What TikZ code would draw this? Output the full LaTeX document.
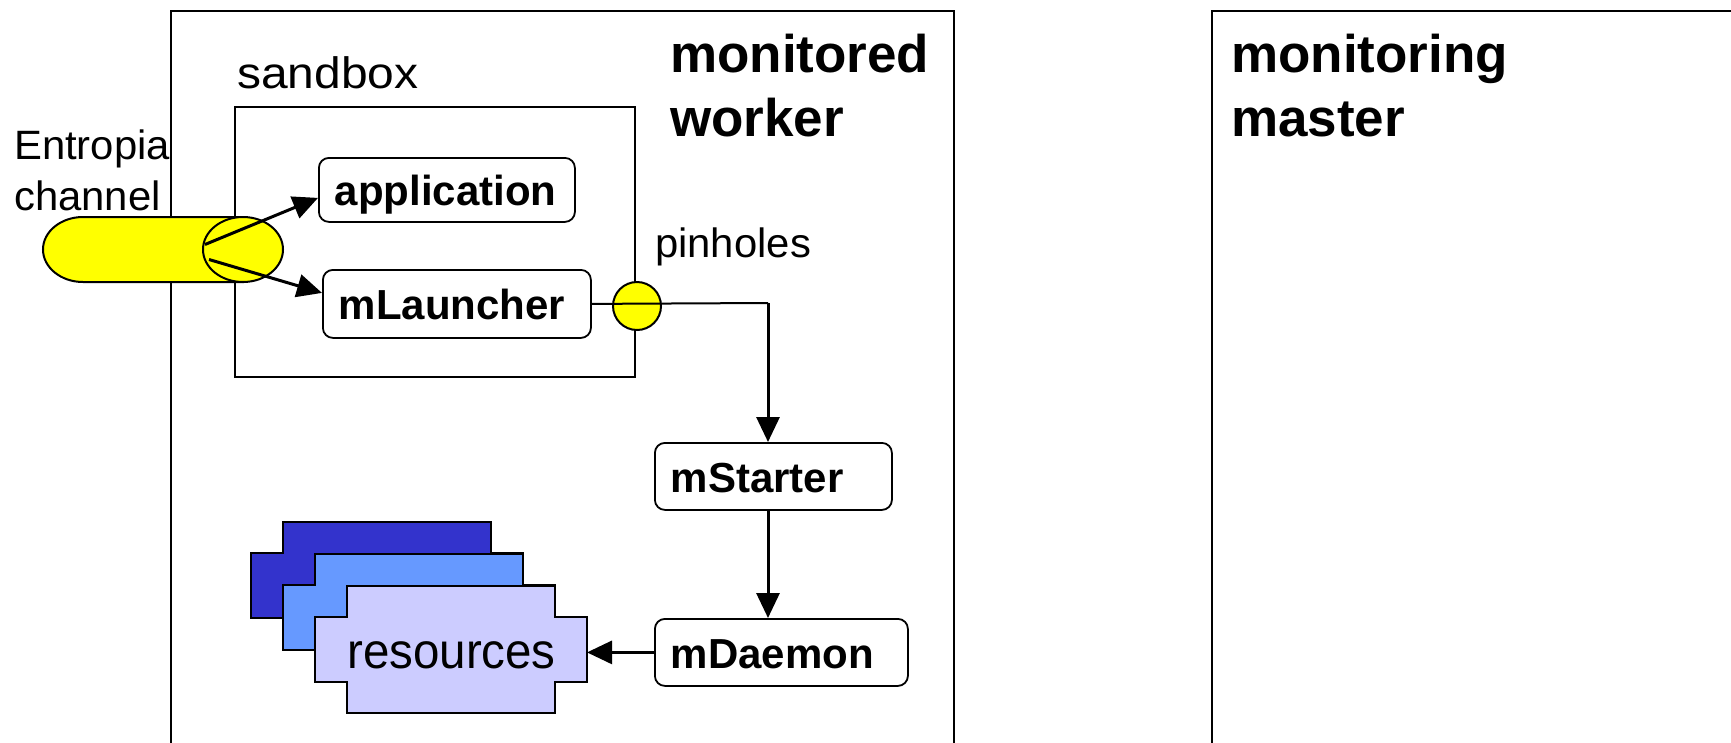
\documentclass[tikz,border=0pt]{standalone}
\usepackage{fontspec}
\setmainfont{Liberation Sans}
\usetikzlibrary{arrows.meta,shapes.geometric,calc}
\definecolor{chanyellow}{HTML}{FFFF00}
\definecolor{resback}{HTML}{3333CC}
\definecolor{resmid}{HTML}{6699FF}
\definecolor{resfront}{HTML}{CCCCFF}

\tikzset{
  resblock/.pic={
    \path[pic actions] (32,0) -- (240,0) -- (240,31) -- (272,31) -- (272,96)
      -- (240,96) -- (240,127) -- (32,127) -- (32,96) -- (0,96) -- (0,31)
      -- (32,31) -- cycle;
  }
}

\begin{document}
\begin{tikzpicture}[x=1pt,y=-1pt,
  frame/.style={draw, line width=2pt},
  procbox/.style={draw, line width=1.8pt, rounded corners=10pt, fill=white,
    anchor=north west, inner xsep=16pt, inner ysep=0pt, align=left,
    font=\fontsize{42}{50}\selectfont\bfseries, text height=32pt, text depth=0pt},
  arr/.style={line width=3pt, -{Triangle[length=25pt,width=23pt]}},
  lbl/.style={anchor=base west, inner sep=0pt},
  lblfont/.style={font=\fontsize{41}{49}\selectfont},
  headfont/.style={font=\fontsize{53}{63}\selectfont\bfseries},
  resshape/.style={draw, line width=2pt}
]
\useasboundingbox (0,0) rectangle (1731,742);
\clip (0,0) rectangle (1731,742);
\fill[white] (0,0) rectangle (1731,742);

% hosts
\draw[frame] (171,11) rectangle (954,800);
\draw[frame] (1212,11) rectangle (1800,800);

% sandbox
\draw[frame] (235,107) rectangle (635,377);

% stacked resources
\pic[resshape, fill=resback] at (251,522) {resblock};
\pic[resshape, fill=resmid] at (283,554) {resblock};
\pic[resshape, fill=resfront] at (315,586) {resblock};
\node[lbl, font=\fontsize{50}{60}\selectfont] (res) at (347,668) {\scalebox{0.95}[1]{resources}};
\coordinate (resin) at (587,651);

% pinhole through the sandbox wall
\node[circle, draw, line width=2pt, fill=chanyellow, minimum size=48pt, inner sep=0pt] (pinhole) at (637,306) {};

% processes
\node[procbox, text width=224pt, minimum height=64pt] (app) at (318,157) {application};
\node[procbox, text width=236pt, minimum height=68pt] (mlaunch) at (322,269) {mLauncher};
\node[procbox, text width=205pt, minimum height=67pt] (mstarter) at (654,442) {mStarter};
\node[procbox, text width=221pt, minimum height=67pt] (mdaemon) at (654,618) {mDaemon};

% connectors
\coordinate (bend) at (768,303);
\draw[line width=2pt] (mlaunch.east) -- (bend);
\draw[arr] (bend) -- (bend |- mstarter.north);
\draw[arr] (mstarter.south -| bend) -- (mdaemon.north -| bend);
\draw[arr] (mdaemon.west) -- (mdaemon.west -| resin);

% Entropia channel
\filldraw[line width=2pt, fill=chanyellow] (243,217) -- (83,217)
  arc[start angle=270, end angle=90, x radius=40, y radius=32.5] -- (243,282) -- cycle;
\node[ellipse, draw, line width=2pt, fill=chanyellow, minimum width=80pt, minimum height=65pt, inner sep=0pt] (chanend) at (243,249.5) {};
\draw[arr] ($(chanend.center)+(-38,-5)$) -- ($(app.west)+(0,8)$);
\draw[arr] ($(chanend.center)+(-34,10)$) -- ($(mlaunch.west)+(0,-11)$);

% labels
\node[lbl, lblfont] (entropia) at (14,159) {\scalebox{1.02}[1]{Entropia}};
\node[lbl, lblfont] (channel) at (14,210) {\scalebox{1.02}[1]{channel}};
\node[lbl, font=\fontsize{44}{52}\selectfont] (sandbox) at (237,88) {\scalebox{1.09}[1]{sandbox}};
\node[lbl, lblfont] (pinholes) at (655,257) {\scalebox{1.02}[1]{pinholes}};
\node[lbl, headfont] (monitored) at (670,72) {monitored};
\node[lbl, headfont] (worker) at (670,136) {worker};
\node[lbl, headfont] (monitoring) at (1231,72) {monitoring};
\node[lbl, headfont] (master) at (1231,136) {master};
\end{tikzpicture}
\end{document}
